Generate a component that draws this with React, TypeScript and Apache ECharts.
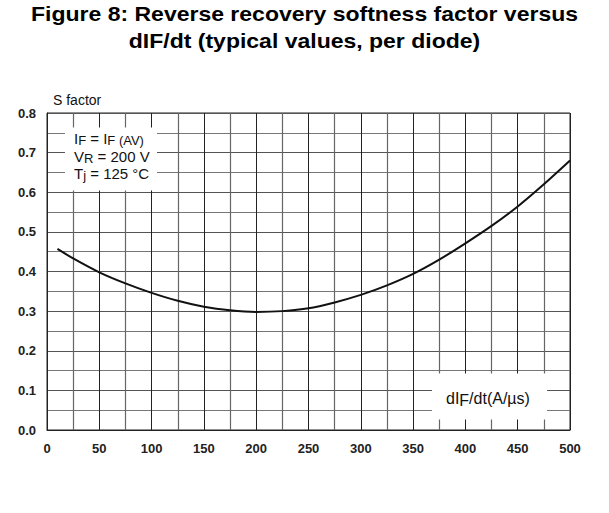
import React, { useEffect, useRef } from "react";
import * as echarts from "echarts";

const xValues = [10, 25, 50, 75, 100, 125, 150, 175, 200, 225, 250, 275, 300, 325, 350, 375, 400, 425, 450, 475, 500];
const sFactor = [0.457, 0.433, 0.398, 0.37, 0.346, 0.326, 0.311, 0.302, 0.298, 0.3, 0.307, 0.322, 0.341, 0.365, 0.394, 0.43, 0.471, 0.515, 0.564, 0.62, 0.68];

const titleLines = ["Figure 8: Reverse recovery softness factor versus", "dIF/dt (typical values, per diode)"];
const yAxisName = "S factor";

export default function App() {
  const ref = useRef<HTMLDivElement>(null);
  useEffect(() => {
    if (!ref.current) return;
    const chart = echarts.init(ref.current, null, { renderer: "svg" });
    const font = "'Liberation Sans', Arial, sans-serif";
    const lblFont = "'Liberation Sans', Arial, sans-serif";
    const rich = {
      n: { fontSize: 15, fontFamily: lblFont, fill: "#111" },
      s: { fontSize: 13, fontFamily: lblFont, fill: "#111", padding: [5, 0, 0, 0] },
    } as any;
    chart.setOption({
      animation: false,
      backgroundColor: "#fff",
      grid: { left: 47, right: 39, top: 113, bottom: 83, show: true, borderColor: "#222", borderWidth: 1 },
      xAxis: {
        type: "value",
        min: 0,
        max: 500,
        interval: 50,
        axisLine: { show: true, lineStyle: { color: "#222" } },
        axisTick: { show: false },
        axisLabel: { fontFamily: font, fontWeight: "bold", fontSize: 13, color: "#222", margin: 12 },
        splitLine: { show: true, lineStyle: { color: "#222", width: 1 } },
        minorTick: { show: false, splitNumber: 2 },
        minorSplitLine: { show: true, lineStyle: { color: "#666", width: 1.2 } },
      },
      yAxis: {
        type: "value",
        min: 0,
        max: 0.8,
        interval: 0.1,
        axisLine: { show: true, lineStyle: { color: "#222" } },
        axisTick: { show: false },
        axisLabel: {
          fontFamily: font,
          fontWeight: "bold",
          fontSize: 13,
          color: "#222",
          margin: 11,
          formatter: (v: number) => v.toFixed(1),
        },
        splitLine: { show: true, lineStyle: { color: "#555", width: 1.2 } },
        minorTick: { show: false, splitNumber: 2 },
        minorSplitLine: { show: true, lineStyle: { color: "#777", width: 1.2 } },
      },
      series: [
        {
          type: "line",
          data: xValues.map((x, i) => [x, sFactor[i]]),
          smooth: 0.3,
          showSymbol: false,
          lineStyle: { color: "#111", width: 2 },
          z: 5,
        },
      ],
      graphic: [
        {
          type: "text",
          x: 304.5,
          y: 14.5,
          scaleX: 1.18,
          style: {
            text: titleLines[0],
            fontFamily: font,
            fontWeight: "bold",
            fontSize: 19.5,
            fill: "#000",
            align: "center",
            verticalAlign: "middle",
          },
        },
        {
          type: "text",
          x: 304.5,
          y: 41.5,
          scaleX: 1.18,
          style: {
            text: titleLines[1],
            fontFamily: font,
            fontWeight: "bold",
            fontSize: 19.5,
            fill: "#000",
            align: "center",
            verticalAlign: "middle",
          },
        },
        {
          type: "text",
          x: 53,
          y: 100,
          style: { text: yAxisName, fontFamily: lblFont, fontSize: 14, fill: "#111", verticalAlign: "middle" },
        },
        {
          type: "rect",
          shape: { x: 65, y: 127.5, width: 92, height: 63 },
          style: { fill: "#fff" },
          z: 10,
        },
        {
          type: "text",
          x: 74,
          y: 129,
          z: 11,
          style: { text: "{n|I}{s|F}{n| = I}{s|F (AV)}", rich },
        },
        {
          type: "text",
          x: 74,
          y: 147,
          z: 11,
          style: { text: "{n|V}{s|R}{n| = 200 V}", rich },
        },
        {
          type: "text",
          x: 74,
          y: 164,
          z: 11,
          style: { text: "{n|T}{s|j}{n| = 125 °C}", rich },
        },
        {
          type: "rect",
          shape: { x: 432, y: 373.5, width: 115, height: 46 },
          style: { fill: "#fff" },
          z: 10,
        },
        {
          type: "text",
          x: 446,
          y: 388,
          z: 11,
          style: {
            text: "{n|dI}{s|F}{n|/dt(A/µs)}",
            rich: {
              n: { fontSize: 16, fontFamily: lblFont, fill: "#111" },
              s: { fontSize: 16, fontFamily: lblFont, fill: "#111", padding: [4, 0, 0, 0] },
            },
          },
        },
      ],
    });
    return () => chart.dispose();
  }, []);
  return <div ref={ref} style={{ position: "absolute", left: 0, top: 0, width: 609, height: 513 }} />;
}
